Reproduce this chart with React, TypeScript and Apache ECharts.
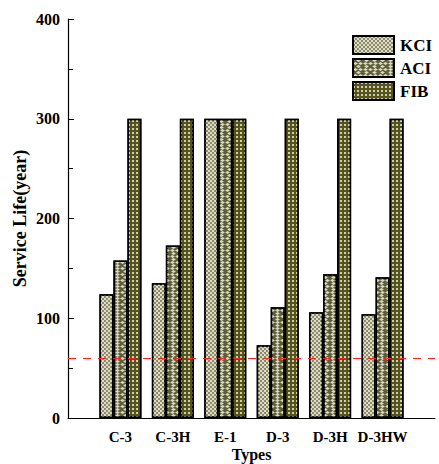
import React, { useEffect, useRef } from "react";
import * as echarts from "echarts";

const categories = ["", "C-3", "C-3H", "E-1", "D-3", "D-3H", "D-3HW", ""];
const kciValues = [124, 135, 300, 73, 106, 104];
const aciValues = [158, 173, 300, 111, 144, 141];
const fibValues = [300, 300, 300, 300, 300, 300];
const targetLife = 60;
const yTicks = [0, 100, 200, 300, 400];

const FONT = "Liberation Serif";

function pad(vals: number[]) {
  return ["-", ...vals, "-"];
}

export default function App() {
  const ref = useRef<HTMLDivElement>(null);
  useEffect(() => {
    if (!ref.current) return;
    const chart = echarts.init(ref.current, null, { renderer: "svg" });
    const border = { borderColor: "#000", borderWidth: 1.5 };
    chart.setOption({
      animation: false,
      grid: { left: 68, right: 4, top: 19, bottom: 46, outerBoundsMode: "none", containLabel: false },
      legend: {
        orient: "vertical",
        left: 352,
        top: 35,
        padding: 0,
        itemWidth: 41,
        itemHeight: 18,
        itemGap: 3,
        icon: "rect",
        textStyle: { fontFamily: FONT, fontWeight: "bold", fontSize: 17, color: "#000", padding: [0, 0, 0, 1] },
        data: ["KCI", "ACI", "FIB"],
      },
      xAxis: {
        type: "category",
        data: categories,
        boundaryGap: false,
        axisLine: { lineStyle: { color: "#000", width: 1.2 } },
        axisTick: { show: false },
        axisLabel: {
          interval: 0,
          margin: 11,
          fontFamily: FONT,
          fontWeight: "bold",
          fontSize: 15,
          color: "#000",
        },
        name: "Types",
        nameLocation: "middle",
        nameGap: 28,
        nameMoveOverlap: false,
        nameTextStyle: { fontFamily: FONT, fontWeight: "bold", fontSize: 16, color: "#000" },
        splitLine: { show: false },
      },
      yAxis: {
        type: "value",
        min: yTicks[0],
        max: yTicks[yTicks.length - 1],
        interval: 100,
        axisLine: { show: true, lineStyle: { color: "#000", width: 1.2 } },
        axisTick: { show: true, inside: true, length: 6, lineStyle: { color: "#000" } },
        minorTick: { show: true, splitNumber: 2, length: 5, lineStyle: { color: "#000" } },
        splitLine: { show: false },
        axisLabel: {
          margin: 8,
          fontFamily: FONT,
          fontWeight: "bold",
          fontSize: 16,
          color: "#000",
        },
        name: "Service Life(year)",
        nameLocation: "middle",
        nameGap: 39,
        nameMoveOverlap: false,
        nameTextStyle: { fontFamily: FONT, fontWeight: "bold", fontSize: 18, color: "#000" },
      },
      series: [
        {
          name: "KCI",
          type: "bar",
          barWidth: 14,
          barGap: "0%",
          data: pad(kciValues),
          itemStyle: {
            color: "#8c8c68",
            ...border,
            decal: {
              symbol: "rect",
              symbolSize: 1,
              color: "#dedcc8",
              dashArrayX: [[2, 2], [0, 2, 2, 0]],
              dashArrayY: [2, 0],
              rotation: 0,
            },
          },
          markLine: {
            silent: true,
            symbol: "none",
            label: { show: false },
            lineStyle: { color: "#ff2020", type: [8, 7], width: 1 },
            data: [{ yAxis: targetLife }],
          },
        },
        {
          name: "ACI",
          type: "bar",
          barWidth: 14,
          barGap: "0%",
          data: pad(aciValues),
          itemStyle: {
            color: "#5e5e38",
            ...border,
            decal: {
              symbol: "diamond",
              symbolSize: 0.95,
              color: "#dcdcc6",
              dashArrayX: [[5, 0], [0, 2.5, 5, 0]],
              dashArrayY: [2.5, 0],
              rotation: 0,
            },
          },
        },
        {
          name: "FIB",
          type: "bar",
          barWidth: 14,
          barGap: "0%",
          data: pad(fibValues),
          itemStyle: {
            color: "#55541f",
            ...border,
            decal: {
              symbol: "rect",
              symbolSize: 1,
              color: "#cfcfa8",
              dashArrayX: [1.6, 1.6],
              dashArrayY: [1.6, 1.6],
              rotation: 0,
            },
          },
        },
      ],
    });
    return () => chart.dispose();
  }, []);
  return <div ref={ref} style={{ width: 439, height: 464, position: "absolute", left: 0, top: 0 }} />;
}
